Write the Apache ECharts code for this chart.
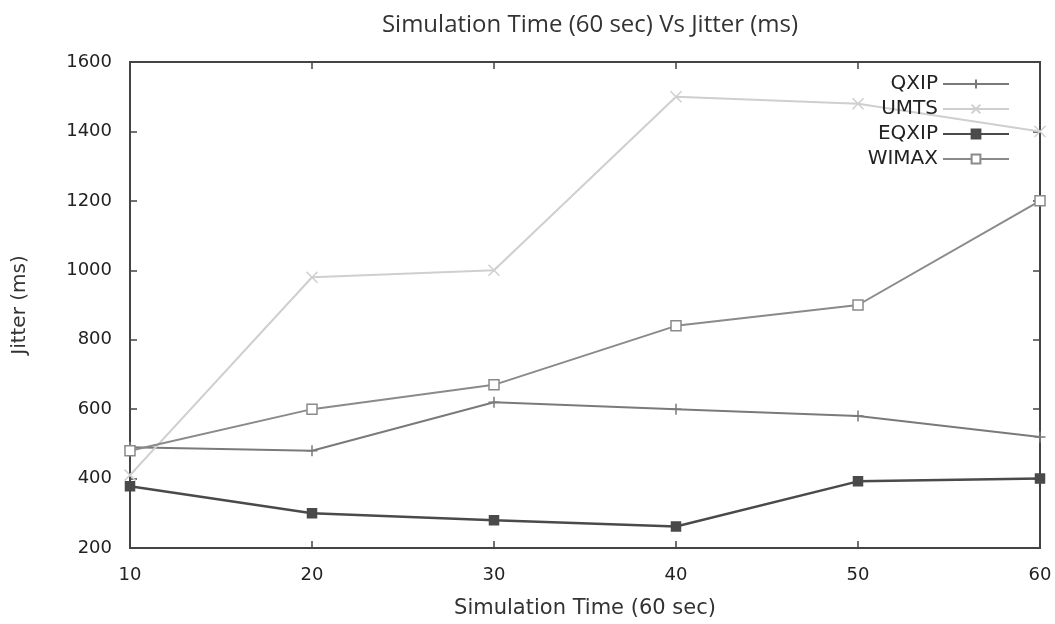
<!DOCTYPE html>
<html>
<head>
<meta charset="utf-8">
<script src="https://cdn.jsdelivr.net/npm/echarts@6/dist/echarts.min.js"></script>
<style>
html,body{margin:0;padding:0;background:#fff;}
#chart{width:1055px;height:624px;}
</style>
</head>
<body>
<div id="chart"></div>
<script>
var times = [10, 20, 30, 40, 50, 60];
var qxip  = [490, 480, 620, 600, 580, 520];
var umts  = [410, 980, 1000, 1500, 1480, 1400];
var eqxip = [378, 300, 280, 262, 392, 400];
var wimax = [480, 600, 670, 840, 900, 1200];
var names = ['QXIP', 'UMTS', 'EQXIP', 'WIMAX'];

var pairs = function(vals){
	var out = [];
	for (var i = 0; i < times.length; i++) out.push([times[i], vals[i]]);
	return out;
};

var plus = 'path://M5,0L5,10M0,5L10,5';
var cross = 'path://M0,0L10,10M10,0L0,10';
var font = 'DejaVu Sans';

var mkSeries = function(name, vals, color, width, symbol, size, fill){
	return {
		name: name,
		type: 'line',
		data: pairs(vals),
		symbol: symbol,
		symbolSize: size,
		showSymbol: true,
		lineStyle: {color: color, width: width},
		itemStyle: {color: fill || color, borderColor: color, borderWidth: 1.5},
		z: 3
	};
};

var myChart = echarts.init(document.getElementById('chart'));
var option = {
	animation: false,
	backgroundColor: '#fff',
	title: {
		text: 'Simulation Time (60 sec) Vs Jitter (ms)',
		left: 585,
		textAlign: 'center',
		top: 8,
		textStyle: {fontFamily: 'Open Sans', fontSize: 24, fontWeight: 'normal', color: '#333'}
	},
	legend: {
		orient: 'vertical',
		right: 40,
		top: 69,
		align: 'right',
		itemWidth: 66,
		itemHeight: 11,
		itemGap: 5,
		textStyle: {fontFamily: font, fontSize: 20, color: '#222'},
		data: names
	},
	grid: {
		left: 130, right: 15, top: 62, bottom: 75,
		show: true, borderColor: '#444', borderWidth: 2
	},
	xAxis: [{
		type: 'value', min: 10, max: 60, interval: 10,
		name: 'Simulation Time (60 sec)', nameLocation: 'middle', nameGap: 50,
		nameTextStyle: {fontFamily: font, fontSize: 21, color: '#333'},
		axisLine: {lineStyle: {color: '#444', width: 2}},
		axisTick: {inside: true, length: 7, lineStyle: {color: '#444', width: 1.5}},
		axisLabel: {fontFamily: font, fontSize: 18, color: '#222', margin: 18},
		splitLine: {show: false}
	}, {
		type: 'value', min: 10, max: 60, interval: 10, position: 'top',
		axisLine: {show: false},
		axisTick: {inside: true, length: 7, lineStyle: {color: '#444', width: 1.5}},
		axisLabel: {show: false},
		splitLine: {show: false}
	}],
	yAxis: [{
		type: 'value', min: 200, max: 1600, interval: 200,
		name: 'Jitter (ms)', nameLocation: 'middle', nameGap: 100,
		nameTextStyle: {fontFamily: font, fontSize: 20, color: '#333'},
		axisLine: {show: true, lineStyle: {color: '#444', width: 2}},
		axisTick: {show: true, inside: true, length: 7, lineStyle: {color: '#444', width: 1.5}},
		axisLabel: {fontFamily: font, fontSize: 18, color: '#222', margin: 18,
			formatter: function(v){ return String(v); }},
		splitLine: {show: false}
	}, {
		type: 'value', min: 200, max: 1600, interval: 200, position: 'right',
		axisLine: {show: false},
		axisTick: {show: true, inside: true, length: 7, lineStyle: {color: '#444', width: 1.5}},
		axisLabel: {show: false},
		splitLine: {show: false}
	}],
	series: [
		mkSeries('QXIP', qxip, '#7a7a7a', 2, plus, 11),
		mkSeries('UMTS', umts, '#cfcfcf', 2, cross, 11),
		mkSeries('EQXIP', eqxip, '#4a4a4a', 2.5, 'rect', 9),
		mkSeries('WIMAX', wimax, '#8a8a8a', 2, 'rect', 10, '#fff')
	]
};
myChart.setOption(option);
window.onresize = function(){
	myChart.resize();
};
</script>
</body>
</html>
